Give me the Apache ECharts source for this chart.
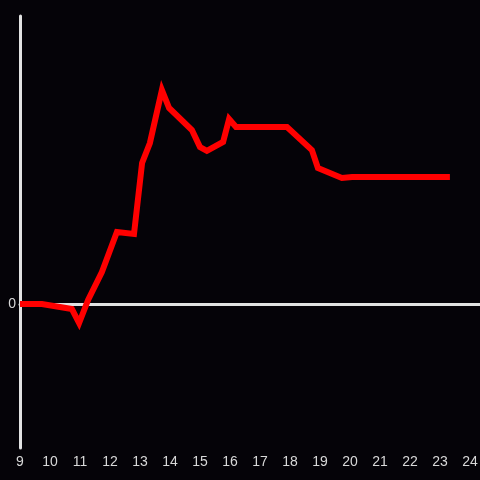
<!DOCTYPE html>
<html>
<head>
<meta charset="utf-8">
<script src="https://cdn.jsdelivr.net/npm/echarts@6/dist/echarts.min.js"></script>
<style>
  html, body { margin: 0; padding: 0; background: #050308; }
  #chart { width: 480px; height: 480px; }
</style>
</head>
<body>
<div id="chart"></div>
<script>
// hour of day and value
var hours = [9.0, 9.73, 10.73, 10.97, 11.27, 11.73, 12.23, 12.8, 13.07, 13.33, 13.73, 13.97,
  14.73, 15.0, 15.23, 15.77, 15.97, 16.2, 17.9, 18.73, 18.93, 19.73, 20.07, 23.33];
var values = [0, 0, -0.035, -0.132, 0.028, 0.222, 0.5, 0.486, 0.979, 1.118, 1.486, 1.361,
  1.208, 1.09, 1.063, 1.125, 1.285, 1.229, 1.229, 1.069, 0.944, 0.875, 0.882, 0.882];
var yTickLabels = ['0'];

var chart = echarts.init(document.getElementById('chart'));
var points = hours.map(function (h, i) { return [h, values[i]]; });

var labelColor = '#d8d8d8';
var axisColor = '#e2e2e2';

chart.setOption({
  backgroundColor: '#050308',
  animation: false,
  // grid runs a little past the right edge so the zero line reaches it
  grid: { left: 20, right: -5, top: 16, bottom: 32, outerBoundsMode: 'none', containLabel: false },
  xAxis: [
    {
      type: 'value',
      min: 9,
      max: 24.5,
      interval: 1,
      position: 'bottom',
      axisLine: { show: false, onZero: false },
      axisTick: { show: false },
      splitLine: { show: false },
      axisLabel: {
        color: labelColor,
        fontSize: 14,
        margin: 7,
        fontFamily: 'Liberation Sans, Arial, sans-serif',
        formatter: function (v) { return Math.abs(v - Math.round(v)) < 1e-6 ? String(Math.round(v)) : ''; }
      }
    },
    {
      // zero line
      type: 'value',
      min: 9,
      max: 24.5,
      interval: 1,
      axisLine: { show: true, onZero: true, lineStyle: { color: axisColor, width: 3 } },
      axisTick: { show: false },
      axisLabel: { show: false },
      splitLine: { show: false }
    }
  ],
  yAxis: {
    type: 'value',
    min: -1,
    max: 2,
    interval: 1,
    axisLine: { show: true, onZero: false, lineStyle: { color: axisColor, width: 3 } },
    axisTick: { show: false },
    splitLine: { show: false },
    axisLabel: {
      color: labelColor,
      fontSize: 14,
      margin: 4,
      fontFamily: 'Liberation Sans, Arial, sans-serif',
      formatter: function (v) { return yTickLabels.indexOf(String(v)) >= 0 ? String(v) : ''; }
    }
  },
  series: [
    {
      type: 'line',
      xAxisIndex: 0,
      data: points,
      showSymbol: false,
      lineStyle: { color: '#ff0000', width: 6, join: 'miter' },
      z: 5
    }
  ]
});
</script>
</body>
</html>
